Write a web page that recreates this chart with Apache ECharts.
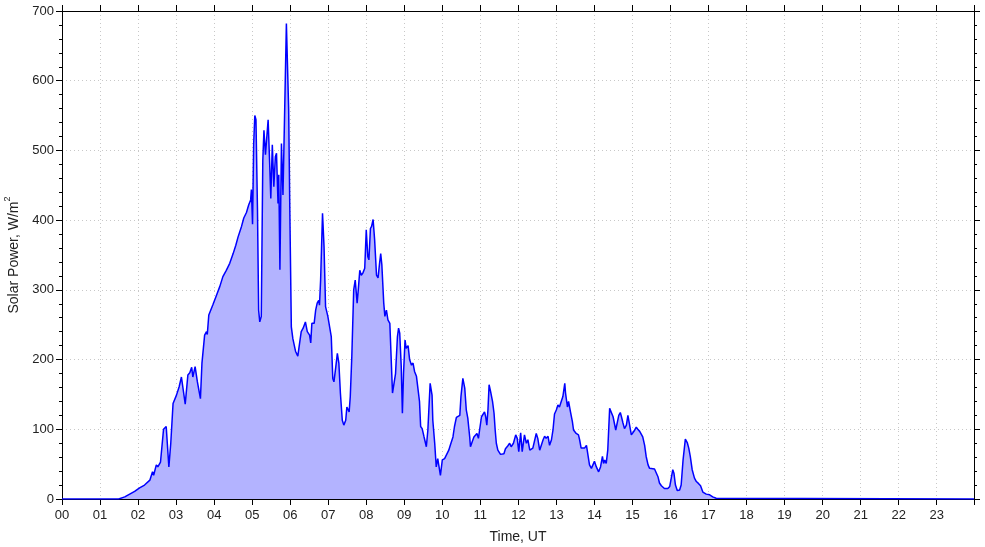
<!DOCTYPE html>
<html>
<head>
<meta charset="utf-8">
<script src="https://cdn.jsdelivr.net/npm/echarts@6/dist/echarts.min.js"></script>
<style>
html,body{margin:0;padding:0;background:#fff;}
#chart{width:985px;height:547px;}
</style>
</head>
<body>
<div id="chart"></div>
<script>
// Time (hours UT) and solar power (W/m^2)
const timeUT = [
  0, 1.49, 1.65, 1.78, 1.91, 2.04, 2.17, 2.31, 2.38, 2.41,
  2.48, 2.52, 2.59, 2.62, 2.67, 2.74, 2.81, 2.86, 2.92, 3.01,
  3.08, 3.14, 3.18, 3.24, 3.31, 3.36, 3.41, 3.44, 3.50, 3.56,
  3.64, 3.68, 3.75, 3.80, 3.82, 3.86, 3.97, 4.06, 4.15, 4.23,
  4.32, 4.41, 4.50, 4.57, 4.63, 4.72, 4.78, 4.85, 4.91, 4.96,
  4.98, 5.01, 5.04, 5.07, 5.10, 5.14, 5.17, 5.20, 5.24, 5.28,
  5.31, 5.35, 5.37, 5.42, 5.46, 5.49, 5.53, 5.57, 5.61, 5.64,
  5.68, 5.70, 5.73, 5.77, 5.81, 5.85, 5.90, 5.93, 5.96, 5.99,
  6.03, 6.07, 6.14, 6.20, 6.25, 6.29, 6.34, 6.40, 6.45, 6.51,
  6.54, 6.57, 6.63, 6.67, 6.71, 6.75, 6.77, 6.80, 6.85, 6.89,
  6.93, 6.99, 7.04, 7.08, 7.12, 7.15, 7.20, 7.24, 7.28, 7.32,
  7.37, 7.41, 7.46, 7.49, 7.55, 7.58, 7.62, 7.67, 7.71, 7.76,
  7.79, 7.83, 7.87, 7.91, 7.96, 8.00, 8.04, 8.07, 8.11, 8.14,
  8.18, 8.22, 8.27, 8.31, 8.35, 8.38, 8.41, 8.46, 8.49, 8.53,
  8.57, 8.62, 8.69, 8.73, 8.77, 8.82, 8.85, 8.88, 8.92, 8.95,
  8.98, 9.02, 9.05, 9.10, 9.14, 9.19, 9.23, 9.27, 9.32, 9.36,
  9.40, 9.43, 9.47, 9.52, 9.58, 9.62, 9.68, 9.73, 9.75, 9.80,
  9.84, 9.88, 9.95, 10.00, 10.06, 10.11, 10.17, 10.21, 10.24, 10.28,
  10.32, 10.37, 10.42, 10.46, 10.49, 10.54, 10.59, 10.63, 10.67, 10.72,
  10.74, 10.79, 10.83, 10.88, 10.91, 10.95, 10.98, 11.03, 11.07, 11.11,
  11.14, 11.17, 11.20, 11.23, 11.27, 11.32, 11.36, 11.39, 11.42, 11.46,
  11.53, 11.58, 11.62, 11.66, 11.72, 11.77, 11.81, 11.87, 11.93, 11.97,
  12.01, 12.06, 12.10, 12.16, 12.21, 12.25, 12.30, 12.34, 12.38, 12.43,
  12.47, 12.51, 12.56, 12.60, 12.65, 12.69, 12.73, 12.78, 12.82, 12.87,
  12.91, 12.95, 13.00, 13.04, 13.08, 13.13, 13.17, 13.22, 13.24, 13.29,
  13.32, 13.37, 13.42, 13.45, 13.49, 13.52, 13.58, 13.61, 13.65, 13.70,
  13.74, 13.79, 13.83, 13.87, 13.92, 13.96, 14.00, 14.05, 14.11, 14.16,
  14.21, 14.24, 14.27, 14.31, 14.35, 14.40, 14.44, 14.49, 14.51, 14.56,
  14.60, 14.64, 14.68, 14.71, 14.75, 14.79, 14.84, 14.88, 14.92, 14.97,
  15.01, 15.06, 15.10, 15.14, 15.19, 15.23, 15.27, 15.32, 15.36, 15.41,
  15.45, 15.49, 15.58, 15.63, 15.67, 15.71, 15.76, 15.80, 15.84, 15.93,
  15.98, 16.02, 16.06, 16.09, 16.13, 16.18, 16.24, 16.28, 16.33, 16.39,
  16.44, 16.48, 16.52, 16.57, 16.63, 16.68, 16.74, 16.79, 16.85, 16.94,
  17.03, 17.11, 17.20, 17.24, 23.98
];
const solarPower = [
  0, 0, 3, 7, 11, 16, 20, 27, 39, 34,
  49, 46, 53, 52, 100, 104, 46, 80, 137, 149,
  161, 175, 175, 136, 178, 181, 189, 175, 190, 168,
  144, 195, 235, 240, 236, 264, 279, 292, 305, 319,
  328, 338, 352, 364, 376, 391, 403, 411, 422, 429,
  444, 394, 510, 550, 544, 415, 271, 254, 262, 486,
  529, 494, 496, 544, 482, 431, 508, 448, 491, 496,
  424, 465, 329, 510, 436, 544, 682, 682, 558, 415,
  247, 230, 212, 205, 207, 240, 245, 254, 240, 235,
  224, 252, 252, 271, 281, 285, 278, 314, 410, 362,
  276, 262, 262, 233, 173, 168, 190, 209, 195, 152,
  113, 106, 113, 132, 125, 147, 204, 300, 314, 281,
  300, 328, 321, 324, 331, 386, 348, 343, 388, 391,
  401, 372, 321, 317, 338, 352, 336, 281, 262, 271,
  257, 252, 152, 154, 180, 233, 245, 238, 190, 123,
  180, 228, 216, 220, 200, 192, 195, 183, 176, 175,
  140, 104, 101, 89, 75, 99, 166, 149, 113, 80,
  46, 58, 34, 56, 58, 58, 70, 77, 75, 89,
  104, 117, 119, 120, 147, 173, 159, 128, 116, 89,
  75, 77, 89, 87, 94, 87, 99, 118, 120, 125,
  118, 106, 128, 164, 154, 140, 123, 99, 80, 70,
  64, 66, 65, 72, 76, 80, 75, 80, 92, 87,
  68, 95, 68, 92, 80, 85, 70, 68, 73, 75,
  94, 87, 70, 70, 85, 90, 87, 90, 77, 85,
  99, 122, 128, 135, 132, 132, 147, 166, 152, 132,
  140, 125, 111, 99, 101, 94, 92, 85, 73, 75,
  73, 77, 75, 49, 44, 49, 54, 46, 39, 46,
  61, 51, 56, 51, 70, 130, 132, 118, 116, 99,
  99, 120, 124, 118, 109, 101, 106, 120, 118, 92,
  95, 99, 103, 100, 97, 95, 89, 77, 61, 49,
  44, 42, 43, 41, 32, 23, 19, 17, 15, 15,
  18, 30, 42, 37, 20, 12, 13, 20, 56, 86,
  81, 73, 61, 42, 30, 25, 22, 19, 10, 7,
  6, 3, 1, 0, 0
];
const xRange = [0, 23.98];
const yRange = [0, 700];
const xTitle = 'Time, UT';
const yTitleMain = 'Solar Power, W/m';
const yTitleSup = '2';

const seriesData = timeUT.map((t, i) => [t, solarPower[i]]);
const FONT = 'Liberation Sans, Arial, sans-serif';
const gridLine = { show: true, lineStyle: { color: '#c8c8c8', width: 1, type: [1, 3] } };
const hourLabel = v => (Math.abs(v - Math.round(v)) < 1e-6 ? String(Math.round(v)).padStart(2, '0') : '');

const chart = echarts.init(document.getElementById('chart'), null, { renderer: 'canvas' });
chart.setOption({
  animation: false,
  backgroundColor: '#ffffff',
  grid: { left: 62, right: 11, top: 11, bottom: 48, containLabel: false, outerBoundsMode: 'none' },
  xAxis: [
    {
      type: 'value', min: xRange[0], max: xRange[1], interval: 1, position: 'bottom',
      name: xTitle, nameLocation: 'middle', nameGap: 31,
      nameTextStyle: { fontFamily: FONT, fontSize: 14, color: '#222' },
      axisLine: { show: true, onZero: false, lineStyle: { color: '#000', width: 1 } },
      axisTick: { show: true, inside: false, length: 6, lineStyle: { color: '#000' } },
      axisLabel: { formatter: hourLabel, fontFamily: FONT, fontSize: 13, color: '#222', margin: 10, showMaxLabel: true },
      splitLine: gridLine
    },
    {
      type: 'value', min: xRange[0], max: xRange[1], interval: 1, position: 'top',
      axisLine: { show: true, onZero: false, lineStyle: { color: '#000', width: 1 } },
      axisTick: { show: true, inside: false, length: 6, lineStyle: { color: '#000' } },
      axisLabel: { show: false },
      splitLine: { show: false }
    }
  ],
  yAxis: [
    {
      type: 'value', min: yRange[0], max: yRange[1], interval: 100, position: 'left',
      name: '{b|' + yTitleMain + '}{s|' + yTitleSup + '}', nameLocation: 'middle', nameGap: 40, nameRotate: 90,
      nameTextStyle: {
        fontFamily: FONT, fontSize: 14, color: '#222',
        rich: {
          b: { fontFamily: FONT, fontSize: 14, color: '#222', lineHeight: 18, verticalAlign: 'bottom' },
          s: { fontFamily: FONT, fontSize: 9, color: '#222', lineHeight: 18, verticalAlign: 'top' }
        }
      },
      axisLine: { show: true, onZero: false, lineStyle: { color: '#000', width: 1 } },
      axisTick: { show: true, inside: false, length: 6, lineStyle: { color: '#000' } },
      minorTick: { show: true, splitNumber: 5, length: 3, lineStyle: { color: '#000' } },
      axisLabel: { fontFamily: FONT, fontSize: 13, color: '#222', margin: 8 },
      splitLine: gridLine
    },
    {
      type: 'value', min: yRange[0], max: yRange[1], interval: 100, position: 'right',
      axisLine: { show: true, onZero: false, lineStyle: { color: '#000', width: 1 } },
      axisTick: { show: true, inside: false, length: 6, lineStyle: { color: '#000' } },
      minorTick: { show: true, splitNumber: 5, length: 3, lineStyle: { color: '#000' } },
      axisLabel: { show: false },
      splitLine: { show: false }
    }
  ],
  series: [
    {
      type: 'line', xAxisIndex: 0, yAxisIndex: 0,
      data: seriesData, showSymbol: false, symbol: 'none', smooth: false,
      lineStyle: { color: '#0000ff', width: 1.5 },
      areaStyle: { color: '#b3b3ff', opacity: 1 },
      z: 1
    }
  ]
});
</script>
</body>
</html>
